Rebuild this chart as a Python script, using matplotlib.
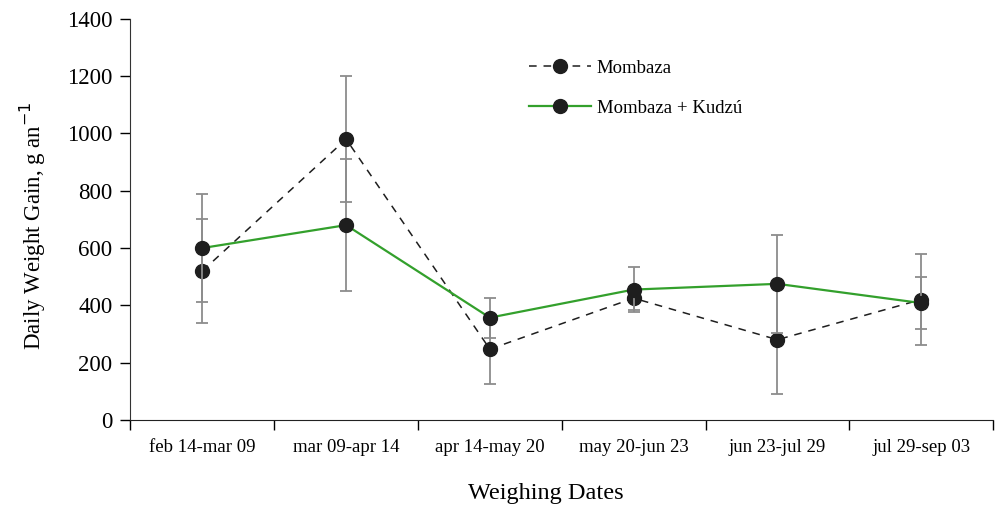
import numpy as np
import matplotlib.pyplot as plt

plt.rcParams['font.family'] = ['Liberation Serif', 'DejaVu Serif']

# Data
periods = ['feb 14-mar 09', 'mar 09-apr 14', 'apr 14-may 20',
           'may 20-jun 23', 'jun 23-jul 29', 'jul 29-sep 03']
mombaza = [520, 980, 247, 425, 280, 420]
mombaza_err = [180, 220, 120, 40, 190, 160]
kudzu = [600, 680, 357, 455, 475, 408]
kudzu_err = [190, 230, 70, 80, 170, 90]

x = np.arange(len(periods))

fig, ax = plt.subplots(figsize=(9.96, 5.09), dpi=100)
fig.subplots_adjust(left=0.131, right=0.997, top=0.963, bottom=0.175)

err_kw = dict(ecolor='#8c8c8c', elinewidth=1.3, capsize=4, capthick=1.3)
ax.errorbar(x, mombaza, yerr=mombaza_err, color='#1e1e1e', ls=(0, (5, 4.5)),
            lw=1.1, marker='o', ms=10, mfc='#1e1e1e', mec='#1e1e1e',
            label='Mombaza', zorder=3, **err_kw)
ax.errorbar(x, kudzu, yerr=kudzu_err, color='#33a02c', ls='-',
            lw=1.6, marker='o', ms=10, mfc='#1e1e1e', mec='#1e1e1e',
            label='Mombaza + Kudzú', zorder=4, **err_kw)

ax.set_xlim(-0.5, len(periods) - 0.5)
ax.set_ylim(0, 1400)
ax.set_yticks(range(0, 1401, 200))
ax.set_xticks(x)
ax.set_xticklabels(periods, fontsize=13.5)
ax.set_xticks(np.arange(-0.5, len(periods)), minor=True)
ax.tick_params(axis='x', which='major', length=0, pad=14)
ax.tick_params(axis='x', which='minor', length=7, width=1, direction='out')
ax.tick_params(axis='y', length=7, width=1, labelsize=16.5, pad=6)

for s in ['top', 'right']:
    ax.spines[s].set_visible(False)
ax.spines['left'].set_color('#333333')
ax.spines['bottom'].set_color('#222222')

ax.set_xlabel('Weighing Dates', fontsize=17.5)
ax.xaxis.set_label_coords(0.481, -0.158)
ax.set_ylabel('Daily Weight Gain, g an$^{-1}$', fontsize=16.5)
ax.yaxis.set_label_coords(-0.096, 0.485)

handles, labels = ax.get_legend_handles_labels()
handles = [h[0] for h in handles]
ax.legend(handles, labels, loc='upper left', bbox_to_anchor=(0.4425, 0.94),
          frameon=False, fontsize=13.5, handlelength=3.3, labelspacing=1.2,
          handletextpad=0.3)

plt.savefig('out.png')
plt.close()
